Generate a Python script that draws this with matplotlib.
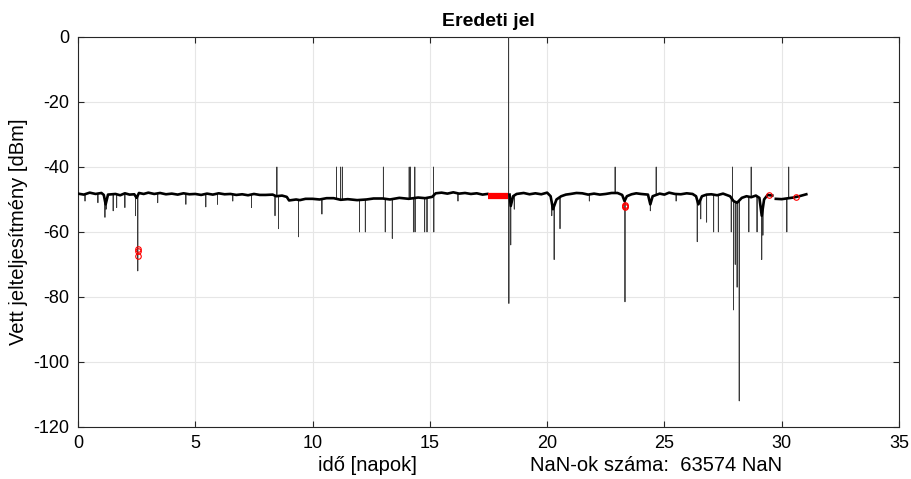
import numpy as np
import matplotlib.pyplot as plt

# Config
plt.rcParams['font.family'] = ['Liberation Sans', 'DejaVu Sans']
plt.rcParams['axes.unicode_minus'] = False
AXIS_COLOR = "#262626"
GRID_COLOR = "#e6e6e6"

# Slow trend of the received power (days, dBm); NaN = gap filled in red
trend_t = [0, 0.25, 0.5, 0.75, 1.0, 1.1, 1.18, 1.28, 1.6, 1.8, 2.0, 2.2, 2.4,
           2.5, 2.6, 2.8, 3.0, 3.25, 3.5, 3.75, 4.0, 4.25, 4.5, 4.75, 5.0, 5.25,
           5.5, 5.75, 6.0, 6.25, 6.5, 6.75, 7.0, 7.25, 7.5, 7.75, 8.0, 8.3,
           8.45, 8.7, 8.9, 9.0, 9.3, 9.46, 9.7, 10.0, 10.3, 10.6, 10.9, 11.2,
           11.5, 11.9, 12.3, 12.6, 13.0, 13.3, 13.7, 14.1, 14.5, 14.8, 15.1,
           15.25, 15.5, 15.75, 16.0, 16.25, 16.5, 16.75, 17.0, 17.25, 17.45, 17.9,
           18.4, 18.45, 18.55, 18.7, 19.0, 19.25, 19.5, 19.75, 20.0, 20.15, 20.25,
           20.4, 20.6, 20.8, 21.0, 21.25, 21.5, 21.75, 22.0, 22.25, 22.5, 22.75,
           23.0, 23.2, 23.3, 23.4, 23.6, 23.8, 24.0, 24.3, 24.4, 24.5, 24.8, 25.0,
           25.2, 25.45, 25.7, 25.95, 26.2, 26.35, 26.45, 26.6, 26.8, 27.0, 27.25,
           27.5, 27.8, 27.95, 28.1, 28.3, 28.5, 28.7, 28.9, 29.05, 29.15, 29.25,
           29.4, 29.6, 29.68, 29.75, 30.0, 30.2, 30.5, 30.8, 31.05]
trend_v = [-48.2, -48.5, -47.9, -48.3, -48.0, -48.6, -51.5, -48.5, -48.3, -48.7,
           -48.1, -48.5, -48.4, -49.5, -48.0, -48.3, -47.9, -48.3, -48.0, -48.4,
           -48.2, -48.5, -48.1, -48.4, -48.3, -48.6, -48.2, -48.5, -48.1, -48.4,
           -48.3, -48.6, -48.4, -48.7, -48.3, -48.6, -48.6, -48.5, -49.0, -48.8,
           -49.2, -50.3, -50.0, -50.2, -49.8, -49.8, -50.0, -49.6, -49.6, -50.1,
           -49.9, -50.2, -50.0, -49.7, -49.7, -50.0, -49.5, -49.8, -49.4, -49.6,
           -49.2, -48.1, -47.9, -48.2, -47.8, -48.2, -48.0, -48.3, -48.1, -48.5,
           -48.3, np.nan,
           -48.5, -52.0, -49.0, -48.3, -48.0, -48.4, -48.1, -48.4, -47.9, -49.0,
           -53.0, -50.0, -49.0, -48.5, -48.3, -48.0, -48.1, -48.5, -48.2, -48.5,
           -48.3, -48.0, -48.0, -48.6, -50.5, -49.0, -48.4, -48.1, -48.3, -48.5,
           -51.5, -49.0, -48.2, -48.5, -47.9, -48.3, -48.4, -48.1, -48.3, -49.0,
           -51.5, -49.0, -48.5, -48.4, -48.7, -48.2, -49.0, -50.5, -51.0, -49.5,
           -49.0, -49.3, -48.8, -49.5, -55.0, -50.0, -48.6, -48.8, np.nan, -49.8,
           -49.9, -49.7, -49.4, -48.9, -48.4]

# Short excursions away from the trend (days, dBm)
spike_t = [0.3, 0.85, 1.15, 1.2, 1.5, 1.65, 2.0, 2.45, 2.55, 3.4, 4.6, 5.45,
           5.95, 6.6, 7.4, 8.4, 8.48, 8.55, 9.4, 10.4, 11.02, 11.2, 11.28, 12.0,
           12.25, 13.02, 13.1, 13.4, 14.12, 14.18, 14.3, 14.36, 14.37, 14.78,
           14.88, 15.16, 15.17, 16.2, 18.36, 18.37, 18.45, 18.6, 20.2, 20.3,
           20.55, 21.8, 22.9, 23.32, 24.4, 24.65, 25.5, 26.4, 26.55, 26.8, 27.1,
           27.3, 27.85, 27.9, 27.95, 28.02, 28.1, 28.19, 28.6, 28.7, 28.95,
           29.15, 29.2, 30.22, 30.3]
spike_v = [-50.5, -51.0, -55.5, -53.0, -53.5, -52.5, -52.5, -55.0, -72.0, -51.0,
           -51.5, -52.3, -51.5, -50.5, -52.5, -55.0, -40.0, -59.0, -61.5, -54.5,
           -40.0, -40.0, -40.0, -60.0, -60.0, -40.0, -60.0, -62.0, -40.0, -40.0,
           -60.0, -40.0, -60.0, -60.0, -60.0, -40.0, -60.0, -50.5, 0.0, -82.0,
           -64.0, -53.0, -55.0, -68.5, -59.0, -50.5, -40.0, -81.5, -53.5, -40.0,
           -50.5, -63.0, -56.0, -57.0, -60.0, -60.0, -60.0, -40.0, -84.0, -70.0,
           -77.0, -112.0, -60.0, -40.0, -60.0, -68.5, -61.0, -60.0, -40.0]

# Interpolated (formerly NaN) samples shown in red
red_seg_t = [17.5, 18.35]
red_seg_v = [-49.0, -49.0]
red_pts_t = [2.55, 2.55, 2.56, 23.3, 23.31, 23.32, 29.47, 30.6]
red_pts_v = [-65.3, -66.0, -67.3, -51.6, -52.0, -52.3, -48.7, -49.2]

nan_count = 63574


def build_signal():
    # Insert each spike into the trend: base -> spike -> base
    t_arr = np.array(trend_t)
    v_arr = np.array(trend_v)
    ok = ~np.isnan(v_arr)
    base = np.interp(spike_t, t_arr[ok], v_arr[ok])
    pts = list(zip(trend_t, trend_v))
    for st, sv, b in zip(spike_t, spike_v, base):
        pts += [(st - 1e-4, b), (st, sv), (st + 1e-4, b)]
    pts.sort(key=lambda p: p[0])
    return [p[0] for p in pts], [p[1] for p in pts]


fig = plt.figure(figsize=(9.12, 4.79), dpi=100)
ax = fig.add_axes([0.0855, 0.1086, 0.9002, 0.8142])

sig_t, sig_v = build_signal()
ax.plot(sig_t, sig_v, color="#3a3a3a", lw=0.6, zorder=3)
ax.plot(trend_t, trend_v, color="black", lw=1.9, zorder=4)
ax.plot(red_seg_t, red_seg_v, color="red", lw=4.5, solid_capstyle="butt", zorder=5)
ax.plot(red_pts_t, red_pts_v, "o", color="red", mfc="none", ms=4, mew=0.8, zorder=5)

ax.set_xlim(0, 35)
ax.set_ylim(-120, 0)
ax.set_xticks(np.arange(0, 36, 5))
ax.set_yticks(np.arange(-120, 1, 20))
ax.grid(True, color=GRID_COLOR, lw=0.8)
ax.set_axisbelow(True)

for s in ax.spines.values():
    s.set_color(AXIS_COLOR)
    s.set_linewidth(0.8)
ax.tick_params(direction="in", length=4, width=0.8, colors=AXIS_COLOR,
               labelsize=13, top=True, right=True, pad=6)
for lab in ax.get_xticklabels() + ax.get_yticklabels():
    lab.set_color("black")

ax.set_title("Eredeti jel", fontsize=14, fontweight="bold", pad=8)
ax.set_ylabel("Vett jelteljesítmény [dBm]", fontsize=14.5, labelpad=4)
ax.text(0.352, -0.1, "idő [napok]", transform=ax.transAxes, fontsize=14.5,
        ha="center", va="center")
ax.text(0.704, -0.1, f"NaN-ok száma:  {nan_count} NaN", transform=ax.transAxes,
        fontsize=14.5, ha="center", va="center")

fig.savefig("out.png", dpi=100)
